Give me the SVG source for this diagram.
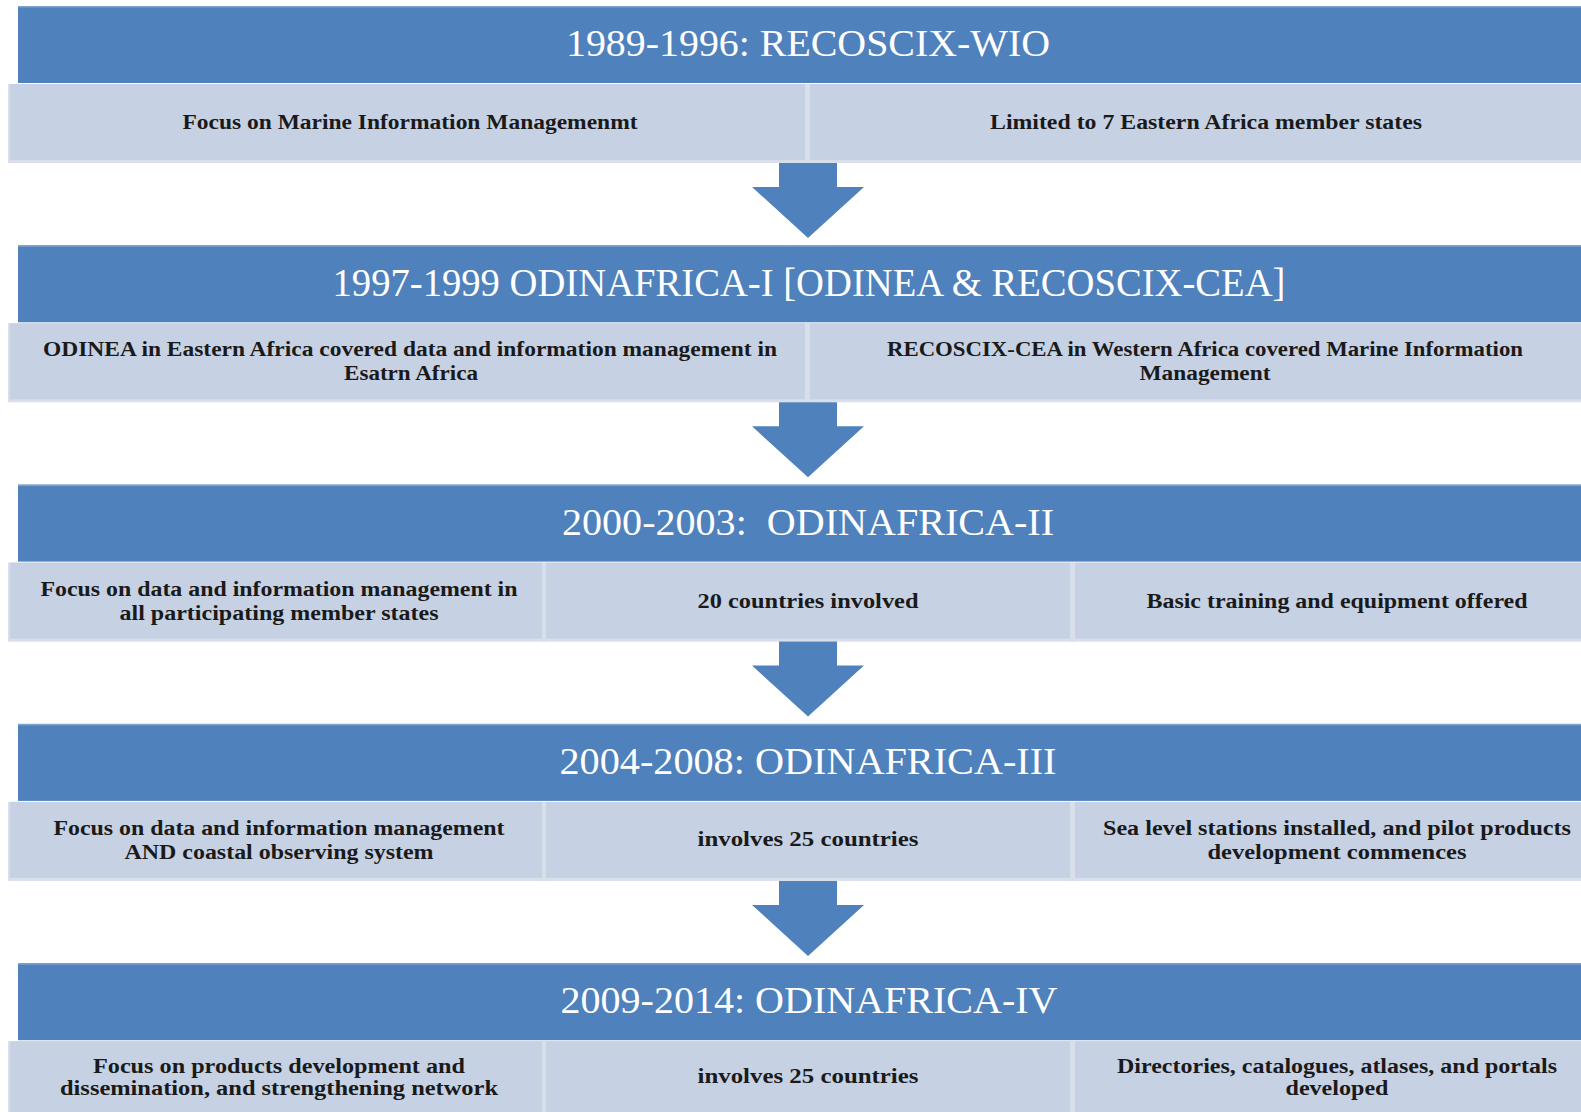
<svg xmlns="http://www.w3.org/2000/svg" width="1581" height="1112" viewBox="0 0 1581 1112">
<defs>
<style>
.hdr{fill:#4F81BD}
.hdrEdge{fill:#7FA2CF}
.cell{fill:#C6D1E4}
.shadow{fill:#D8DEEA}
.arrow{fill:#4F81BD}
.ht{font-family:"Liberation Serif","Times New Roman",serif;font-size:37px;fill:#FFFFFF;text-anchor:middle}
.ct{font-family:"Liberation Serif","Times New Roman",serif;font-size:20px;font-weight:bold;fill:#1A1A1A;text-anchor:middle}
</style>
</defs>
<rect width="1581" height="1112" fill="#FFFFFF"/>

<!-- Section 1 -->
<g id="section1">
  <g id="header1">
    <rect class="hdr" x="18" y="6" width="1590" height="77"/>
    <rect class="hdrEdge" x="18" y="6" width="1590" height="1.5"/>
    <text class="ht" x="808" y="56" textLength="484" lengthAdjust="spacingAndGlyphs">1989-1996: RECOSCIX-WIO</text>
  </g>
  <g id="cell1a">
    <rect class="shadow" x="8" y="84" width="802" height="79"/>
    <rect class="cell" x="10" y="84" width="795" height="76"/>
    <text class="ct" x="410" y="129" textLength="455" lengthAdjust="spacingAndGlyphs">Focus on Marine Information Managemenmt</text>
  </g>
  <g id="cell1b">
    <rect class="shadow" x="805" y="84" width="805" height="79"/>
    <rect class="cell" x="810" y="84" width="800" height="76"/>
    <text class="ct" x="1206" y="129" textLength="432" lengthAdjust="spacingAndGlyphs">Limited to 7 Eastern Africa member states</text>
  </g>
</g>

<!-- Section 2 -->
<g id="section2" transform="translate(0,239.3)">
  <g id="header2">
    <rect class="hdr" x="18" y="6" width="1590" height="77"/>
    <rect class="hdrEdge" x="18" y="6" width="1590" height="1.5"/>
    <text class="ht" x="809" y="57" style="font-size:39px" textLength="953" lengthAdjust="spacingAndGlyphs">1997-1999 ODINAFRICA-I [ODINEA &amp; RECOSCIX-CEA]</text>
  </g>
  <g id="cell2a">
    <rect class="shadow" x="8" y="84" width="802" height="79"/>
    <rect class="cell" x="10" y="84" width="795" height="76"/>
    <text class="ct" x="410" y="117" textLength="734" lengthAdjust="spacingAndGlyphs">ODINEA in Eastern Africa covered data and information management in</text>
    <text class="ct" x="411" y="141" textLength="134" lengthAdjust="spacingAndGlyphs">Esatrn Africa</text>
  </g>
  <g id="cell2b">
    <rect class="shadow" x="805" y="84" width="805" height="79"/>
    <rect class="cell" x="810" y="84" width="800" height="76"/>
    <text class="ct" x="1205" y="117" textLength="636" lengthAdjust="spacingAndGlyphs">RECOSCIX-CEA in Western Africa covered Marine Information</text>
    <text class="ct" x="1205" y="141" textLength="131" lengthAdjust="spacingAndGlyphs">Management</text>
  </g>
</g>

<!-- Section 3 -->
<g id="section3" transform="translate(0,478.6)">
  <g id="header3">
    <rect class="hdr" x="18" y="6" width="1590" height="77"/>
    <rect class="hdrEdge" x="18" y="6" width="1590" height="1.5"/>
    <text class="ht" x="808" y="56" textLength="492" lengthAdjust="spacingAndGlyphs" xml:space="preserve">2000-2003:  ODINAFRICA-II</text>
  </g>
  <g id="cell3a">
    <rect class="shadow" x="8" y="84" width="538" height="79"/>
    <rect class="cell" x="10" y="84" width="532" height="76"/>
    <text class="ct" x="279" y="117" textLength="477" lengthAdjust="spacingAndGlyphs">Focus on data and information management in</text>
    <text class="ct" x="279" y="141" textLength="319" lengthAdjust="spacingAndGlyphs">all participating member states</text>
  </g>
  <g id="cell3b">
    <rect class="shadow" x="542" y="84" width="533" height="79"/>
    <rect class="cell" x="546" y="84" width="524" height="76"/>
    <text class="ct" x="808" y="129" textLength="221" lengthAdjust="spacingAndGlyphs">20 countries involved</text>
  </g>
  <g id="cell3c">
    <rect class="shadow" x="1070" y="84" width="545" height="79"/>
    <rect class="cell" x="1075" y="84" width="540" height="76"/>
    <text class="ct" x="1337" y="129" textLength="381" lengthAdjust="spacingAndGlyphs">Basic training and equipment offered</text>
  </g>
</g>

<!-- Section 4 -->
<g id="section4" transform="translate(0,717.9)">
  <g id="header4">
    <rect class="hdr" x="18" y="6" width="1590" height="77"/>
    <rect class="hdrEdge" x="18" y="6" width="1590" height="1.5"/>
    <text class="ht" x="808" y="56" textLength="497" lengthAdjust="spacingAndGlyphs">2004-2008: ODINAFRICA-III</text>
  </g>
  <g id="cell4a">
    <rect class="shadow" x="8" y="84" width="538" height="79"/>
    <rect class="cell" x="10" y="84" width="532" height="76"/>
    <text class="ct" x="279" y="117" textLength="451" lengthAdjust="spacingAndGlyphs">Focus on data and information management</text>
    <text class="ct" x="279" y="141" textLength="309" lengthAdjust="spacingAndGlyphs">AND coastal observing system</text>
  </g>
  <g id="cell4b">
    <rect class="shadow" x="542" y="84" width="533" height="79"/>
    <rect class="cell" x="546" y="84" width="524" height="76"/>
    <text class="ct" x="808" y="128" textLength="221" lengthAdjust="spacingAndGlyphs">involves 25 countries</text>
  </g>
  <g id="cell4c">
    <rect class="shadow" x="1070" y="84" width="545" height="79"/>
    <rect class="cell" x="1075" y="84" width="540" height="76"/>
    <text class="ct" x="1337" y="117" textLength="468" lengthAdjust="spacingAndGlyphs">Sea level stations installed, and pilot products</text>
    <text class="ct" x="1337" y="141" textLength="259" lengthAdjust="spacingAndGlyphs">development commences</text>
  </g>
</g>

<!-- Section 5 -->
<g id="section5" transform="translate(0,957.2)">
  <g id="header5">
    <rect class="hdr" x="18" y="6" width="1590" height="77"/>
    <rect class="hdrEdge" x="18" y="6" width="1590" height="1.5"/>
    <text class="ht" x="809" y="56" textLength="497" lengthAdjust="spacingAndGlyphs">2009-2014: ODINAFRICA-IV</text>
  </g>
  <g id="cell5a">
    <rect class="shadow" x="8" y="84" width="538" height="80"/>
    <rect class="cell" x="10" y="84" width="532" height="80"/>
    <text class="ct" x="279" y="115.5" textLength="372" lengthAdjust="spacingAndGlyphs">Focus on products development and</text>
    <text class="ct" x="279" y="138" textLength="438" lengthAdjust="spacingAndGlyphs">dissemination, and strengthening network</text>
  </g>
  <g id="cell5b">
    <rect class="shadow" x="542" y="84" width="533" height="80"/>
    <rect class="cell" x="546" y="84" width="524" height="80"/>
    <text class="ct" x="808" y="126" textLength="221" lengthAdjust="spacingAndGlyphs">involves 25 countries</text>
  </g>
  <g id="cell5c">
    <rect class="shadow" x="1070" y="84" width="545" height="80"/>
    <rect class="cell" x="1075" y="84" width="540" height="80"/>
    <text class="ct" x="1337" y="115.5" textLength="440" lengthAdjust="spacingAndGlyphs">Directories, catalogues, atlases, and portals</text>
    <text class="ct" x="1337" y="138" textLength="103" lengthAdjust="spacingAndGlyphs">developed</text>
  </g>
</g>

<!-- Connectors -->
<g id="connectors">
  <path id="arrow1" class="arrow" d="M779,163 H837 V187 H864 L808,238 L752,187 H779 Z"/>
  <path id="arrow2" class="arrow" transform="translate(0,239.3)" d="M779,163 H837 V187 H864 L808,238 L752,187 H779 Z"/>
  <path id="arrow3" class="arrow" transform="translate(0,478.6)" d="M779,163 H837 V187 H864 L808,238 L752,187 H779 Z"/>
  <path id="arrow4" class="arrow" transform="translate(0,717.9)" d="M779,163 H837 V187 H864 L808,238 L752,187 H779 Z"/>
</g>
</svg>
